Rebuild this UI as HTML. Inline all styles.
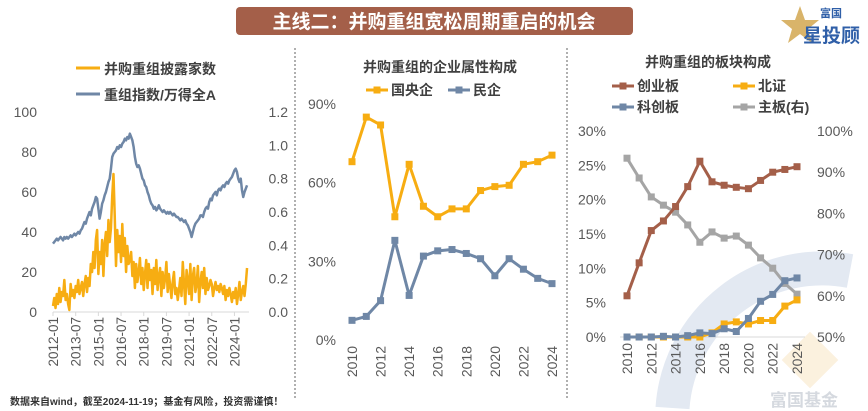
<!DOCTYPE html>
<html><head><meta charset="utf-8">
<style>
html,body{margin:0;padding:0;background:#fff;width:868px;height:411px;overflow:hidden;}
svg{display:block;font-family:"Liberation Sans","Noto Sans CJK SC",sans-serif;}
</style></head>
<body>
<svg id="s" width="868" height="411" viewBox="0 0 868 411" xmlns="http://www.w3.org/2000/svg">
  <g>
    <path d="M 672.5 408 A 150 150 0 0 1 850 271" fill="none" stroke="#e3e9f2" stroke-width="34"/>
    <rect x="790" y="340" width="40" height="40" fill="#fbf1de" transform="rotate(45 810 360)"/>
    <text x="770" y="406" font-size="17" fill="#d5d9df" font-weight="bold">富国基金</text>
  </g>
  <g>
    <rect x="236" y="7" width="397" height="28" rx="4" fill="#a45f49"/>
    <text x="434" y="28" font-size="19" font-weight="bold" fill="#fff" text-anchor="middle">主线二：并购重组宽松周期重启的机会</text>
  </g>
  <g>
    <polygon points="800,6 805,20 819,20 808,29 812,43 800,34 788,43 792,29 781,20 795,20" fill="#d9b46a"/>
    <text x="820" y="17" font-size="11" font-weight="bold" fill="#2f5fa8">富国</text>
    <text x="803" y="42" font-size="19" font-weight="bold" fill="#2f5fa8">星投顾</text>
  </g>
  <line x1="295" y1="48" x2="295" y2="400" stroke="#b0b0b0" stroke-width="2" stroke-dasharray="2,2"/>
  <line x1="567" y1="48" x2="567" y2="400" stroke="#b0b0b0" stroke-width="2" stroke-dasharray="2,2"/>
  <g id="c1"></g>
  <g id="c2"></g>
  <g id="c3"></g>
  <text x="10" y="405" font-size="10" fill="#333" font-weight="bold">数据来自wind，截至2024-11-19；基金有风险，投资需谨慎！</text>
</svg>
<script>
// ---- Chart 1 data (monthly from 2012-01) ----
const c1Ticks = ["2012-01","2013-07","2015-01","2016-07","2018-01","2019-07","2021-01","2022-07","2024-01"];
const c1LeftTicks = [0,20,40,60,80,100];
const c1RightTicks = ["0.0","0.2","0.4","0.6","0.8","1.0","1.2"];
const c1Count = [3,7,2,9,4,12,5,10,8,16,6,9,4,1,14,8,11,7,13,10,
16,9,12,15,8,14,18,10,17,13,24,20,30,22,36,41,
19,30,24,36,18,34,40,28,46,35,42,58,69,48,
23,41,30,38,25,44,28,37,20,33,24,26,
30,18,25,12,24,15,20,27,14,22,11,19,26,
12,24,16,21,9,22,14,26,11,18,22,8,20,12,17,25,10,19,13,
7,15,20,9,12,6,11,17,8,25,14,4,21,16,9,24,6,
18,22,10,14,23,5,15,20,12,22,9,17,11,13,16,14,8,12,15,11,13,10,14,
12,9,13,6,11,8,12,9,5,10,7,12,4,9,15,6,10,13,8,14,22];
const c1Index = [0.41,0.42,0.43,0.44,0.43,0.44,0.45,0.44,0.43,0.45,0.44,0.45,0.44,0.45,0.46,0.45,0.46,0.47,0.46,0.47,
0.48,0.47,0.49,0.50,0.52,0.54,0.53,0.56,0.58,0.60,0.58,0.62,0.64,0.66,0.69,0.68,
0.62,0.56,0.60,0.65,0.67,0.70,0.72,0.75,0.78,0.80,0.86,0.93,0.95,0.96,
0.97,0.99,0.98,1.00,0.99,1.01,1.02,1.04,1.03,1.05,1.04,1.07,
1.05,1.03,0.99,0.93,0.89,0.87,0.88,0.86,0.83,0.80,0.79,0.76,0.75,
0.72,0.70,0.67,0.65,0.64,0.62,0.63,0.61,0.62,0.64,0.62,0.61,0.60,0.61,0.60,0.59,0.60,0.59,0.60,
0.59,0.58,0.59,0.58,0.57,0.57,0.56,0.55,0.56,0.55,0.54,0.55,0.53,0.52,0.50,0.48,0.45,
0.48,0.51,0.53,0.54,0.55,0.56,0.58,0.58,0.57,0.60,0.62,0.63,0.62,0.66,0.68,0.67,0.70,0.71,0.72,0.70,0.73,0.74,0.73,
0.75,0.76,0.75,0.77,0.78,0.77,0.79,0.80,0.81,0.83,0.85,0.86,0.84,0.80,0.78,0.80,0.73,0.69,0.72,0.74,0.76];
// ---- Chart 2 data ----
const c2Years = [2010,2011,2012,2013,2014,2015,2016,2017,2018,2019,2020,2021,2022,2023,2024];
const c2YTicks = [0,30,60,90];
const c2SOE = [68,85,82,47,67,51,47,50,50,57,58.5,59,67,68,70.5];
const c2Private = [7.5,9,15,38,17,32,34,34.5,33,31,24.5,31,27,23.5,21.5];
// ---- Chart 3 data ----
const c3Years = [2010,2011,2012,2013,2014,2015,2016,2017,2018,2019,2020,2021,2022,2023,2024];
const c3LeftTicks = [0,5,10,15,20,25,30];
const c3RightTicks = [50,60,70,80,90,100];
const c3ChiNext = [6,10.8,15.5,16.9,19,21.9,25.6,22.6,22.1,21.8,21.6,22.8,24,24.4,24.8];
const c3BSE = [0,0,0,0,0,0,0,0.6,1.9,2.2,1.9,2.4,2.4,4.5,5.4];
const c3Star = [0,0,0,0.1,0,0.2,0.6,0.5,1.2,0.8,2.7,5.2,6.2,8.2,8.6];
const c3Main = [93.4,88.6,84,82,80.3,77.2,73,75.5,74,74.5,72.3,69.2,66.7,63,60.4];

const NS="http://www.w3.org/2000/svg";
function mk(parent,tag,attrs,text){const e=document.createElementNS(NS,tag);for(const k in attrs)e.setAttribute(k,attrs[k]);if(text!==undefined)e.textContent=text;parent.appendChild(e);return e;}
const GRAY="#595959";

// ===== Chart 1 =====
(function(){
  const g=document.getElementById('c1');
  const x=m=>53+m*1.26;
  const yL=v=>312-v*2;
  const yR=v=>312-v/1.2*200;
  mk(g,'line',{x1:53,y1:312,x2:249,y2:312,stroke:'#d9d9d9'});
  c1LeftTicks.forEach(v=>{const t=mk(g,'text',{x:37,y:yL(v)+5,'font-size':14,fill:GRAY,'text-anchor':'end'},String(v));
    
    });
  c1RightTicks.forEach(s=>{const t=mk(g,'text',{x:288,y:yR(parseFloat(s))+5,'font-size':14,fill:GRAY,'text-anchor':'end'},s);
    
    });
  c1Ticks.forEach((s,i)=>{const xx=x(i*18);
    mk(g,'line',{x1:xx,y1:312,x2:xx,y2:316,stroke:'#d9d9d9'});
    const t=mk(g,'text',{x:0,y:0,'font-size':13.5,fill:GRAY,'text-anchor':'end',transform:`translate(${xx+5},317) rotate(-90)`},s);
    
    });
  const p1=mk(g,'polyline',{points:c1Count.map((v,i)=>x(i)+','+yL(v)).join(' '),fill:'none',stroke:'#f7ad12','stroke-width':2.5,'stroke-linejoin':'round'});
  
  
  const p2=mk(g,'polyline',{points:c1Index.map((v,i)=>x(i)+','+yR(v)).join(' '),fill:'none',stroke:'#6f87a6','stroke-width':2.5,'stroke-linejoin':'round'});
  
  
  const l1=mk(g,'g',{});
  
  
  mk(l1,'line',{x1:76,y1:68,x2:100,y2:68,stroke:'#f7ad12','stroke-width':3});
  mk(l1,'text',{x:104,y:74,'font-size':14,'font-weight':'bold',fill:'#404040'},'并购重组披露家数');
  const l2=mk(g,'g',{});
  
  
  mk(l2,'line',{x1:76,y1:94,x2:100,y2:94,stroke:'#6f87a6','stroke-width':3});
  mk(l2,'text',{x:104,y:100,'font-size':14,'font-weight':'bold',fill:'#404040'},'重组指数/万得全A');
})();

function marks(g,arr,xf,yf,color,name){
  const p=mk(g,'polyline',{points:arr.map((v,i)=>xf(i)+','+yf(v)).join(' '),fill:'none',stroke:color,'stroke-width':3,'stroke-linejoin':'round'});
  
  
  arr.forEach((v,i)=>{const r=mk(g,'rect',{x:xf(i)-3.5,y:yf(v)-3.5,width:7,height:7,fill:color});
    
    });
}
function legend(g,x,y,color,label,name){
  const l=mk(g,'g',{});
  
  
  mk(l,'line',{x1:x,y1:y,x2:x+22,y2:y,stroke:color,'stroke-width':3});
  mk(l,'rect',{x:x+7.5,y:y-3.5,width:7,height:7,fill:color});
  mk(l,'text',{x:x+25,y:y+5,'font-size':14,'font-weight':'bold',fill:'#404040'},label);
}

// ===== Chart 2 =====
(function(){
  const g=document.getElementById('c2');
  const x=i=>352+i*(200/14);
  const y=v=>340-v*(236/90);
  mk(g,'text',{x:440,y:72,'font-size':14,'font-weight':'bold',fill:'#404040','text-anchor':'middle'},'并购重组的企业属性构成');
  legend(g,366,90,'#f7ad12','国央企','legend-entry-soe');
  legend(g,448,90,'#6f87a6','民企','legend-entry-private');
  c2YTicks.forEach(v=>{const t=mk(g,'text',{x:336,y:y(v)+5,'font-size':14,fill:GRAY,'text-anchor':'end'},v+'%');
    
    });
  c2Years.forEach((yr,i)=>{if(i%2)return;const t=mk(g,'text',{x:0,y:0,'font-size':14,fill:GRAY,'text-anchor':'end',transform:`translate(${x(i)+5},346) rotate(-90)`},String(yr));
    
    });
  marks(g,c2SOE,x,y,'#f7ad12','soe');
  marks(g,c2Private,x,y,'#6f87a6','private');
})();

// ===== Chart 3 =====
(function(){
  const g=document.getElementById('c3');
  const x=i=>627+i*(170/14);
  const yL=v=>337-v*(206/30);
  const yR=v=>337-(v-50)*(206/50);
  mk(g,'text',{x:708,y:67,'font-size':14,'font-weight':'bold',fill:'#404040','text-anchor':'middle'},'并购重组的板块构成');
  legend(g,612,86,'#a45f49','创业板','legend-entry-chinext');
  legend(g,733,86,'#f7ad12','北证','legend-entry-bse');
  legend(g,612,107,'#6f87a6','科创板','legend-entry-star');
  legend(g,733,107,'#a5a5a5','主板(右)','legend-entry-main');
  mk(g,'line',{x1:620,y1:337,x2:805,y2:337,stroke:'#d9d9d9'});
  c3LeftTicks.forEach(v=>{const t=mk(g,'text',{x:606,y:yL(v)+5,'font-size':14,fill:GRAY,'text-anchor':'end'},v+'%');
    
    });
  c3RightTicks.forEach(v=>{const t=mk(g,'text',{x:817,y:yR(v)+5,'font-size':14,fill:GRAY},v+'%');
    
    });
  c3Years.forEach((yr,i)=>{if(i%2)return;const t=mk(g,'text',{x:0,y:0,'font-size':14,fill:GRAY,'text-anchor':'end',transform:`translate(${x(i)+5},343) rotate(-90)`},String(yr));
    
    });
  marks(g,c3Main,x,yR,'#a5a5a5','main-board');
  marks(g,c3ChiNext,x,yL,'#a45f49','chinext');
  marks(g,c3BSE,x,yL,'#f7ad12','bse');
  marks(g,c3Star,x,yL,'#6f87a6','star-market');
})();
</script>
</body></html>
